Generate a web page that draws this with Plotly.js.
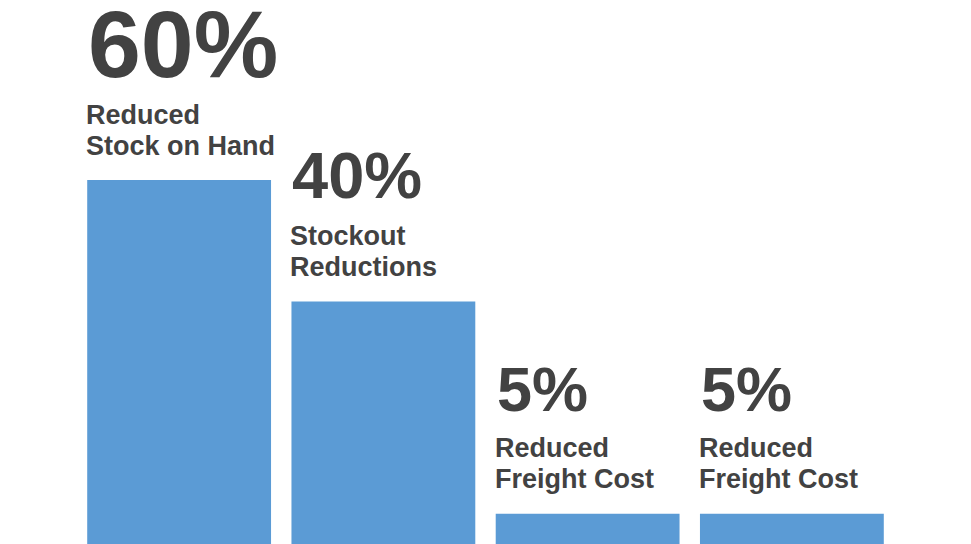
<!DOCTYPE html>
<html>
<head>
<meta charset="utf-8">
<script src="https://cdn.plot.ly/plotly-3.0.1.min.js"></script>
<style>html,body{margin:0;padding:0;background:#fff;}#chart{width:971px;height:544px;}</style>
</head>
<body>
<div id="chart"></div>
<script>
const categories = ["Reduced Stock on Hand", "Stockout Reductions", "Reduced Freight Cost", "Reduced Freight Cost (2)"];
const values = [60, 40, 5, 5];
const valueLabels = ["60%", "40%", "5%", "5%"];
const labelLine1 = ["Reduced", "Stockout", "Reduced", "Reduced"];
const labelLine2 = ["Stock on Hand", "Reductions", "Freight Cost", "Freight Cost"];
const numberSizes = [95, 65, 63, 63];

const xIdx = values.map((v, i) => i);
const textColor = "#424242";
const fontFam = "'Liberation Sans', Arial, sans-serif";
const labelSize = 27;
const descent = 0.212;

function ann(i, v, text, size, gap, xshift) {
  return {
    xref: "x", yref: "y", x: i - 0.45, y: v,
    xanchor: "left", yanchor: "bottom", xshift: xshift,
    yshift: gap - 2 - descent * size,
    text: "<b>" + text + "</b>", showarrow: false, align: "left",
    font: {family: fontFam, size: size, color: textColor}
  };
}

const annotations = [];
values.forEach((v, i) => {
  annotations.push(ann(i, v, labelLine2[i], labelSize, 25, -3));
  annotations.push(ann(i, v, labelLine1[i], labelSize, 56, -3));
  annotations.push(ann(i, v, valueLabels[i], numberSizes[i], 103, -1));
});

const trace = {
  type: "bar", x: xIdx, y: values,
  marker: {color: "#5B9BD5"}, hoverinfo: "skip"
};

const layout = {
  width: 971, height: 544,
  margin: {l: 77, r: 77, t: 0, b: 0, pad: 0},
  paper_bgcolor: "#ffffff", plot_bgcolor: "#ffffff",
  bargap: 0.1,
  showlegend: false,
  xaxis: {range: [-0.5, 3.5], visible: false, fixedrange: true},
  yaxis: {range: [0, 89.7], visible: false, fixedrange: true},
  annotations: annotations
};

Plotly.newPlot("chart", [trace], layout, {staticPlot: true, displayModeBar: false});
</script>
</body>
</html>
